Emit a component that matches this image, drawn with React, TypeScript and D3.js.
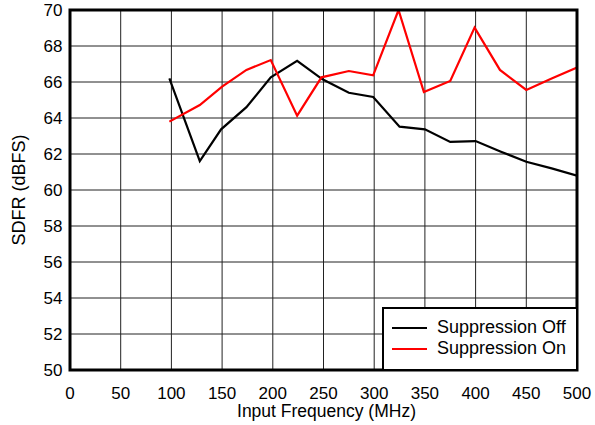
import React from "react";
import * as d3 from "d3";

const freqOff = [98, 128, 149, 174, 198, 224, 249, 275, 299, 325, 350, 375, 400, 425, 450, 475, 500];
const valuesOff = [66.2, 61.6, 63.37, 64.6, 66.26, 67.17, 66.15, 65.4, 65.17, 63.52, 63.37, 62.67, 62.72, 62.13, 61.57, 61.2, 60.8];
const freqOn = [98, 128, 150, 174, 198, 224, 248, 275, 299, 324, 349, 375, 399, 424, 450, 475, 500];
const valuesOn = [63.8, 64.72, 65.74, 66.67, 67.22, 64.13, 66.26, 66.61, 66.37, 70, 65.44, 66.06, 69.02, 66.67, 65.56, 66.2, 66.8];
const xTicks = [0, 50, 100, 150, 200, 250, 300, 350, 400, 450, 500];
const yTicks = [50, 52, 54, 56, 58, 60, 62, 64, 66, 68, 70];
const seriesNames = ["Suppression Off", "Suppression On"];
const seriesColors = ["#000000", "#ff0000"];

export default function App() {
  const W = 595, H = 425;
  const L = 70, R = 577, T = 10, B = 370;
  const x = d3.scaleLinear().domain([0, 500]).range([L, R]);
  const y = d3.scaleLinear().domain([50, 70]).range([B, T]);
  const line = d3.line<[number, number]>().x(d => x(d[0])).y(d => y(d[1]));
  const offData = freqOff.map((f, i) => [f, valuesOff[i]] as [number, number]);
  const onData = freqOn.map((f, i) => [f, valuesOn[i]] as [number, number]);
  const font = "'Liberation Sans', Arial, sans-serif";
  return (
    <svg width={W} height={H} style={{ position: "absolute", left: 0, top: 0, background: "#fff" }} fontFamily={font}>
      <defs>
        <clipPath id="plot"><rect x={L} y={T} width={R - L} height={B - T} /></clipPath>
      </defs>
      {xTicks.map(t => (
        <line key={"gx" + t} x1={x(t)} x2={x(t)} y1={T} y2={B} stroke="#222" strokeWidth={1} />
      ))}
      {yTicks.map(t => (
        <line key={"gy" + t} x1={L} x2={R} y1={y(t)} y2={y(t)} stroke="#222" strokeWidth={1} />
      ))}
      <g clipPath="url(#plot)">
        <path d={line(offData) || ""} fill="none" stroke={seriesColors[0]} strokeWidth={2.2} strokeLinejoin="miter" />
        <path d={line(onData) || ""} fill="none" stroke={seriesColors[1]} strokeWidth={2.2} strokeLinejoin="miter" />
      </g>
      <rect x={L} y={T} width={R - L} height={B - T} fill="none" stroke="#000" strokeWidth={3} />
      {xTicks.map(t => (
        <text key={"tx" + t} x={x(t)} y={398.5} textAnchor="middle" fontSize={17} fill="#000">{t}</text>
      ))}
      {yTicks.map(t => (
        <text key={"ty" + t} x={62.5} y={y(t) + 6} textAnchor="end" fontSize={17} fill="#000">{t}</text>
      ))}
      <text x={(L + R) / 2 + 3} y={417} textAnchor="middle" fontSize={17.5} fill="#000">Input Frequency (MHz)</text>
      <text transform={`translate(25,${(T + B) / 2}) rotate(-90)`} textAnchor="middle" fontSize={18} fill="#000">SDFR (dBFS)</text>
      <rect x={383} y={308} width={R - 383} height={B - 308} fill="#fff" stroke="#000" strokeWidth={2} />
      {seriesNames.map((n, i) => (
        <g key={n}>
          <line x1={392} x2={427} y1={328 + i * 21} y2={328 + i * 21} stroke={seriesColors[i]} strokeWidth={2.2} />
          <text x={437} y={333 + i * 21} fontSize={18} fill="#000">{n}</text>
        </g>
      ))}
    </svg>
  );
}
